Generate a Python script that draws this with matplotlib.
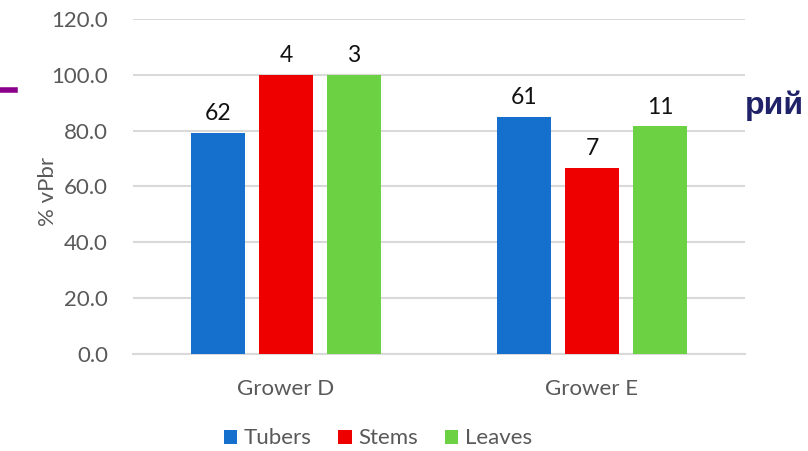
import matplotlib.pyplot as plt
import numpy as np

plt.rcParams['font.family'] = ['Lato', 'DejaVu Sans']

growers = ['Grower D', 'Grower E']
parts = ['Tubers', 'Stems', 'Leaves']
colors = ['#1570CD', '#EE0000', '#6CD143']
# % vPbr per plant part, and sample counts shown above each bar
tubers = [79.2, 85.0]
stems = [100.0, 66.7]
leaves = [100.0, 81.7]
n_tubers = [62, 61]
n_stems = [4, 7]
n_leaves = [3, 11]

values = [tubers, stems, leaves]
counts = [n_tubers, n_stems, n_leaves]

fig = plt.figure(figsize=(8.08, 4.51), dpi=100)
ax = fig.add_axes([0.1646, 0.215, 0.7574, 0.743])

x = np.arange(len(growers))
width = 0.176
step = 0.222
for i, (vals, ns) in enumerate(zip(values, counts)):
    pos = x + (i - 1) * step
    ax.bar(pos, vals, width, color=colors[i], label=parts[i], zorder=3)
    for p, v, n in zip(pos, vals, ns):
        ax.text(p, v + 3, str(n), ha='center', va='bottom', fontsize=16.5, color='#111111')

ax.set_xlim(-0.5, 1.5)
ax.set_ylim(0, 120)
ax.set_yticks(np.arange(0, 121, 20))
ax.set_yticklabels([f'{t:.1f}' for t in np.arange(0, 121, 20)])
ax.set_xticks(x)
ax.set_xticklabels(growers)
ax.tick_params(axis='both', length=0, labelsize=16, colors='#595959')
ax.tick_params(axis='x', pad=18)
ax.tick_params(axis='y', pad=18)
ax.grid(axis='y', color='#D9D9D9', linewidth=1.5, zorder=0)
for s in ['top', 'right', 'left']:
    ax.spines[s].set_visible(False)
ax.spines['bottom'].set_color('#D9D9D9')
ax.spines['bottom'].set_linewidth(1.5)

ax.set_ylabel('% vPbr', fontsize=16, color='#595959')
ax.yaxis.set_label_coords(-0.122, 0.485)

ax.legend(loc='center', bbox_to_anchor=(0.40, -0.252), ncol=3, frameon=False,
          fontsize=16, handlelength=0.6, handleheight=0.6, handletextpad=0.3,
          columnspacing=1.2, labelcolor='#595959')

# leftover slide elements behind the chart
fig.add_artist(plt.Line2D([0, 15 / 808], [1 - 89.5 / 451] * 2, color='#8B008B', linewidth=4))
fig.text(745 / 808, 1 - 106 / 451, 'рий', fontsize=23, fontweight='bold',
         family='Liberation Sans', color='#1F2268', va='center', ha='left')

fig.savefig('out.png', dpi=100)
